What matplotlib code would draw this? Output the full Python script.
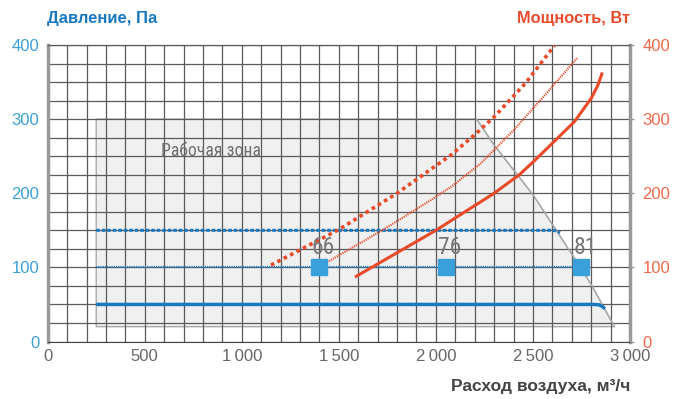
import matplotlib
matplotlib.use("Agg")
import matplotlib.pyplot as plt
from matplotlib import font_manager
from matplotlib.patches import Polygon

# --- данные ---
# рабочая зона (расход, давление)
zona_x = [250, 250, 2210, 2300, 2500, 2700, 2800, 2920]
zona_y = [20, 300, 300, 265, 198, 118, 77, 20]

# давление, Па (левая ось)
p50_x = [250, 2810, 2840, 2860, 2870]
p50_y = [50, 50, 49.5, 47, 44]
p100_x = [250, 2750]
p100_y = [100, 100]
p150_x = [250, 2590, 2615, 2630, 2640]
p150_y = [150, 150, 149.5, 148, 147]

# мощность, Вт (правая ось)
w150_x = [1150, 1500, 1800, 2080, 2200, 2300, 2460, 2610]
w150_y = [103, 151, 200, 252, 279, 303, 348, 399]
w100_x = [1400, 1730, 1975, 2080, 2230, 2400, 2540, 2730]
w100_y = [101, 151, 191, 209, 240, 285, 326, 383]
w50_x = [1590, 2000, 2300, 2430, 2500, 2610, 2715, 2800, 2835, 2855]
w50_y = [88, 150, 200, 225, 242, 270, 297, 328, 346, 361]

# уровни шума, дБ(А)
shum_x = [1400, 2050, 2750]
shum_y = [100, 100, 100]
shum = ["66", "76", "81"]

x_ticks = [0, 500, 1000, 1500, 2000, 2500, 3000]
x_labels = ["0", "500", "1\u2009000", "1\u2009500", "2\u2009000", "2\u2009500", "3\u2009000"]
y_ticks = [0, 100, 200, 300, 400]

# узкий шрифт для подписей внутри поля, если есть
names = {f.name for f in font_manager.fontManager.ttflist}
uzkiy = None
for kand in ["Liberation Sans Narrow", "Roboto Condensed", "Open Sans Condensed", "Noto Sans Condensed"]:
    if kand in names:
        uzkiy = kand
        break
if uzkiy:
    sem_uzkiy = [uzkiy, "DejaVu Sans"]
    razm_zona = 12.8
else:
    sem_uzkiy = ["Liberation Sans", "DejaVu Sans"]
    razm_zona = 12

plt.rcParams["font.family"] = ["Liberation Sans", "DejaVu Sans"]

SINIY = "#1878c0"
SINIY2 = "#3aa0da"
KRASNIY = "#e84a2a"
SERIY = "#666666"

fig = plt.figure(figsize=(6.81, 3.99), dpi=100)
ax = fig.add_axes([47.7 / 681, 1 - 341.5 / 399, (630 - 47.7) / 681, (341.5 - 45) / 399])
ax.set_xlim(0, 3000)
ax.set_ylim(0, 400)

# сетка
for gx in range(0, 3001, 100):
    ax.axvline(gx, color="#5a5a5a", lw=0.9, zorder=1)
for gy in range(0, 401, 25):
    ax.axhline(gy, color="#5a5a5a", lw=0.9, zorder=1)

ax.add_patch(Polygon(list(zip(zona_x, zona_y)), closed=True, facecolor="#f0f0f0",
                     edgecolor="#aaaaaa", lw=1, zorder=0.5))
ax.plot(zona_x[2:], zona_y[2:], color="#aaaaaa", lw=1, zorder=1.5)
ax.text(582, 257, "Рабочая зона", family=sem_uzkiy, fontsize=razm_zona,
        color="#707070", va="center", ha="left", zorder=2)

# давление
ax.plot(p50_x, p50_y, color=SINIY, lw=2.5, solid_capstyle="butt", zorder=3)
ax.plot(p100_x, p100_y, color=SINIY, lw=1.6, ls=(0, (0.5, 0.5)), zorder=3)
ax.plot(p150_x, p150_y, color=SINIY, lw=2.2, ls=(0, (1.2, 0.6)), zorder=3)

# мощность
ax.plot(w150_x, w150_y, color=KRASNIY, lw=2.6, ls=(0, (1, 1)), zorder=3)
ax.plot(w100_x, w100_y, color=KRASNIY, lw=1.6, ls=(0, (0.5, 0.5)), zorder=3)
ax.plot(w50_x, w50_y, color=KRASNIY, lw=2.2, zorder=3)

ax.plot(shum_x, shum_y, ls="none", marker="s", markersize=11.5, color=SINIY2, zorder=4)
for sx, sy, s in zip(shum_x, shum_y, shum):
    ax.text(sx + 20, sy + 11, s, family=sem_uzkiy, fontsize=17,
            color="#777777", ha="center", va="bottom", zorder=5)

# оси
for side in ["left", "right"]:
    ax.spines[side].set_color("#999999")
    ax.spines[side].set_linewidth(2.5)
ax.spines["bottom"].set_color("#444444")
ax.spines["top"].set_color("#5a5a5a")
ax.spines["top"].set_linewidth(0.9)

ax.set_xticks(x_ticks)
ax.set_xticklabels(x_labels)
ax.set_yticks(y_ticks)
ax.tick_params(axis="x", length=0, pad=5.5, labelsize=12, labelcolor=SERIY)
ax.tick_params(axis="y", length=0, pad=6, labelsize=12, labelcolor=SINIY2)

ax2 = ax.twinx()
ax2.set_ylim(0, 400)
ax2.set_yticks(y_ticks)
ax2.tick_params(axis="y", length=3, width=1, color="#999999", pad=6,
                labelsize=12, labelcolor="#f06848")
for s in ax2.spines.values():
    s.set_visible(False)

fig.text(47 / 681, 1 - 19 / 399, "Давление, Па", fontsize=12, weight="bold",
         color=SINIY, ha="left", va="center")
fig.text(630 / 681, 1 - 19 / 399, "Мощность, Вт", fontsize=11.8, weight="bold",
         color=KRASNIY, ha="right", va="center")
fig.text(630 / 681, 1 - 386 / 399, "Расход воздуха, м³/ч", fontsize=12.5, weight="bold",
         color="#444444", ha="right", va="center")

fig.savefig("out.png", dpi=100)
